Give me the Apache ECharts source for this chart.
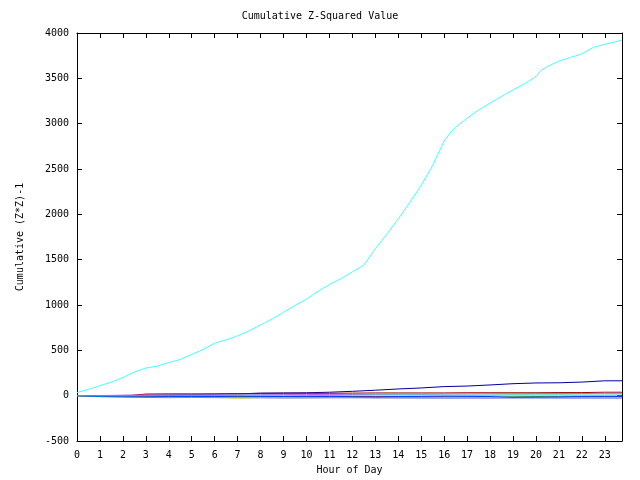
<!DOCTYPE html>
<html><head><meta charset="utf-8">
<script src="https://cdn.jsdelivr.net/npm/echarts@6/dist/echarts.min.js"></script>
<style>html,body{margin:0;padding:0;background:#fff}#c{width:640px;height:480px}</style>
</head><body><div id="c"></div>
<script>
// Cumulative (Z*Z)-1 readings: [hour, value]
const bigHours = [0,0.5,1,1.5,2,2.5,3,3.5,4,4.5,5,5.5,6,6.5,7,7.5,8,8.5,9,9.5,10,10.5,11,11.5,12,12.5,13,13.5,14,14.5,15,15.5,16,16.3,16.5,17,17.5,18,18.5,19,19.5,20,20.2,20.5,21,21.5,22,22.5,23,23.75];
const cyanValues = [35,70,110,150,200,260,305,325,365,400,455,510,580,615,660,715,780,845,920,995,1065,1150,1225,1290,1365,1440,1620,1780,1950,2130,2320,2540,2810,2910,2960,3060,3150,3226,3300,3372,3440,3518,3584,3630,3690,3730,3770,3840,3876,3920];

const hours = [0,1,2,3,4,5,6,7,8,9,10,11,12,13,14,15,16,17,18,19,20,21,22,23,23.75];
const darkBlueValues = [0,0,3,6,8,12,16,20,28,30,32,38,48,60,74,85,100,106,118,132,140,142,150,164,164];
const darkRedValues  = [0,-5,-8,18,20,20,20,22,25,26,26,26,28,30,30,30,30,32,32,32,32,34,34,38,38];
const redValues      = [0,-4,-8,-5,-6,-8,-4,-10,-8,-10,-12,-8,-10,-10,-12,-14,-14,-20,-20,-18,-16,-15,-15,-12,-12];
const greenValues    = [0,-5,-6,-10,-8,-5,-8,-6,-10,-12,-14,-20,-16,-22,-20,-20,-18,-16,-18,-14,-12,-14,-16,-18,-18];
const yellowValues   = [0,-8,-10,-12,-14,-16,-18,-28,-22,-25,-25,-22,-20,-22,-25,-25,-24,-22,-22,-20,-20,-18,-18,-20,-20];
const magentaValues  = [0,2,4,6,6,8,8,10,10,12,12,14,14,16,18,18,20,20,22,22,24,24,24,26,26];
const purpleValues   = [0,-10,-15,-20,-22,-20,-22,-22,-24,-26,-25,-24,-24,-25,-26,-27,-28,-28,-28,-27,-27,-28,-28,-28,-28];
const blueValues     = [0,-10,-12,-12,-10,-8,-10,-6,-8,-10,-8,-8,-12,-14,-10,-8,-6,-8,-10,-18,-16,-14,-10,-10,-10];
const tealValues     = [0,-2,0,2,4,5,4,6,6,5,4,4,6,8,8,8,6,5,6,8,8,8,6,6,6];

const smallSeries = [
  {name:'s2', color:'#0000a0', values:darkBlueValues},
  {name:'s3', color:'#a00000', values:darkRedValues},
  {name:'s4', color:'#ff0000', values:redValues},
  {name:'s5', color:'#00b000', values:greenValues},
  {name:'s6', color:'#e0e000', values:yellowValues},
  {name:'s7', color:'#ff40ff', values:magentaValues},
  {name:'s8', color:'#8080ff', values:purpleValues},
  {name:'s9', color:'#0040ff', values:blueValues},
  {name:'s10', color:'#00d0a0', values:tealValues}
];

const yTicks = [-500,0,500,1000,1500,2000,2500,3000,3500,4000];
const xMax = 23.75;

const font = 'DejaVu Sans Mono';
const series = [];
smallSeries.forEach(s => {
  series.push({type:'line', name:s.name, showSymbol:false, xAxisIndex:0, yAxisIndex:0,
    lineStyle:{color:s.color, width:1}, itemStyle:{color:s.color},
    data: hours.map((h,i)=>[h, s.values[i]]), animation:false});
});
series.push({type:'line', name:'s1', showSymbol:false, xAxisIndex:0, yAxisIndex:0,
  lineStyle:{color:'#40ffff', width:1}, itemStyle:{color:'#40ffff'},
  data: bigHours.map((h,i)=>[h, cyanValues[i]]), animation:false});

const axisBase = {
  axisLine:{show:true, onZero:false, lineStyle:{color:'#000', width:1}},
  axisTick:{show:true, inside:true, length:5, lineStyle:{color:'#000'}},
  splitLine:{show:false}
};

const chart = echarts.init(document.getElementById('c'));
chart.setOption({
  backgroundColor:'#fff',
  animation:false,
  title:{text:'Cumulative Z-Squared Value', left:'center', top:6,
    textStyle:{fontFamily:font, fontSize:10, fontWeight:'normal', color:'#000'}},
  grid:{left:77, right:18, top:33, bottom:36},
  xAxis:[
    Object.assign({}, axisBase, {type:'value', min:0, max:xMax, interval:1, position:'bottom',
      name:'Hour of Day', nameLocation:'middle', nameGap:24,
      nameTextStyle:{fontFamily:font, fontSize:10, color:'#000'},
      axisLabel:{fontFamily:font, fontSize:10, color:'#000', margin:9, showMaxLabel:false,
        formatter: v => String(v)}}),
    Object.assign({}, axisBase, {type:'value', min:0, max:xMax, interval:1, position:'top',
      axisLabel:{show:false}})
  ],
  yAxis:[
    Object.assign({}, axisBase, {type:'value', min:yTicks[0], max:yTicks[yTicks.length-1], interval:500, position:'left',
      name:'Cumulative (Z*Z)-1', nameLocation:'middle', nameGap:52, nameRotate:90,
      nameTextStyle:{fontFamily:font, fontSize:10, color:'#000'},
      axisLabel:{fontFamily:font, fontSize:10, color:'#000', margin:8, formatter: v => String(v)}}),
    Object.assign({}, axisBase, {type:'value', min:yTicks[0], max:yTicks[yTicks.length-1], interval:500, position:'right',
      axisLabel:{show:false}})
  ],
  series: series
});
</script></body></html>
